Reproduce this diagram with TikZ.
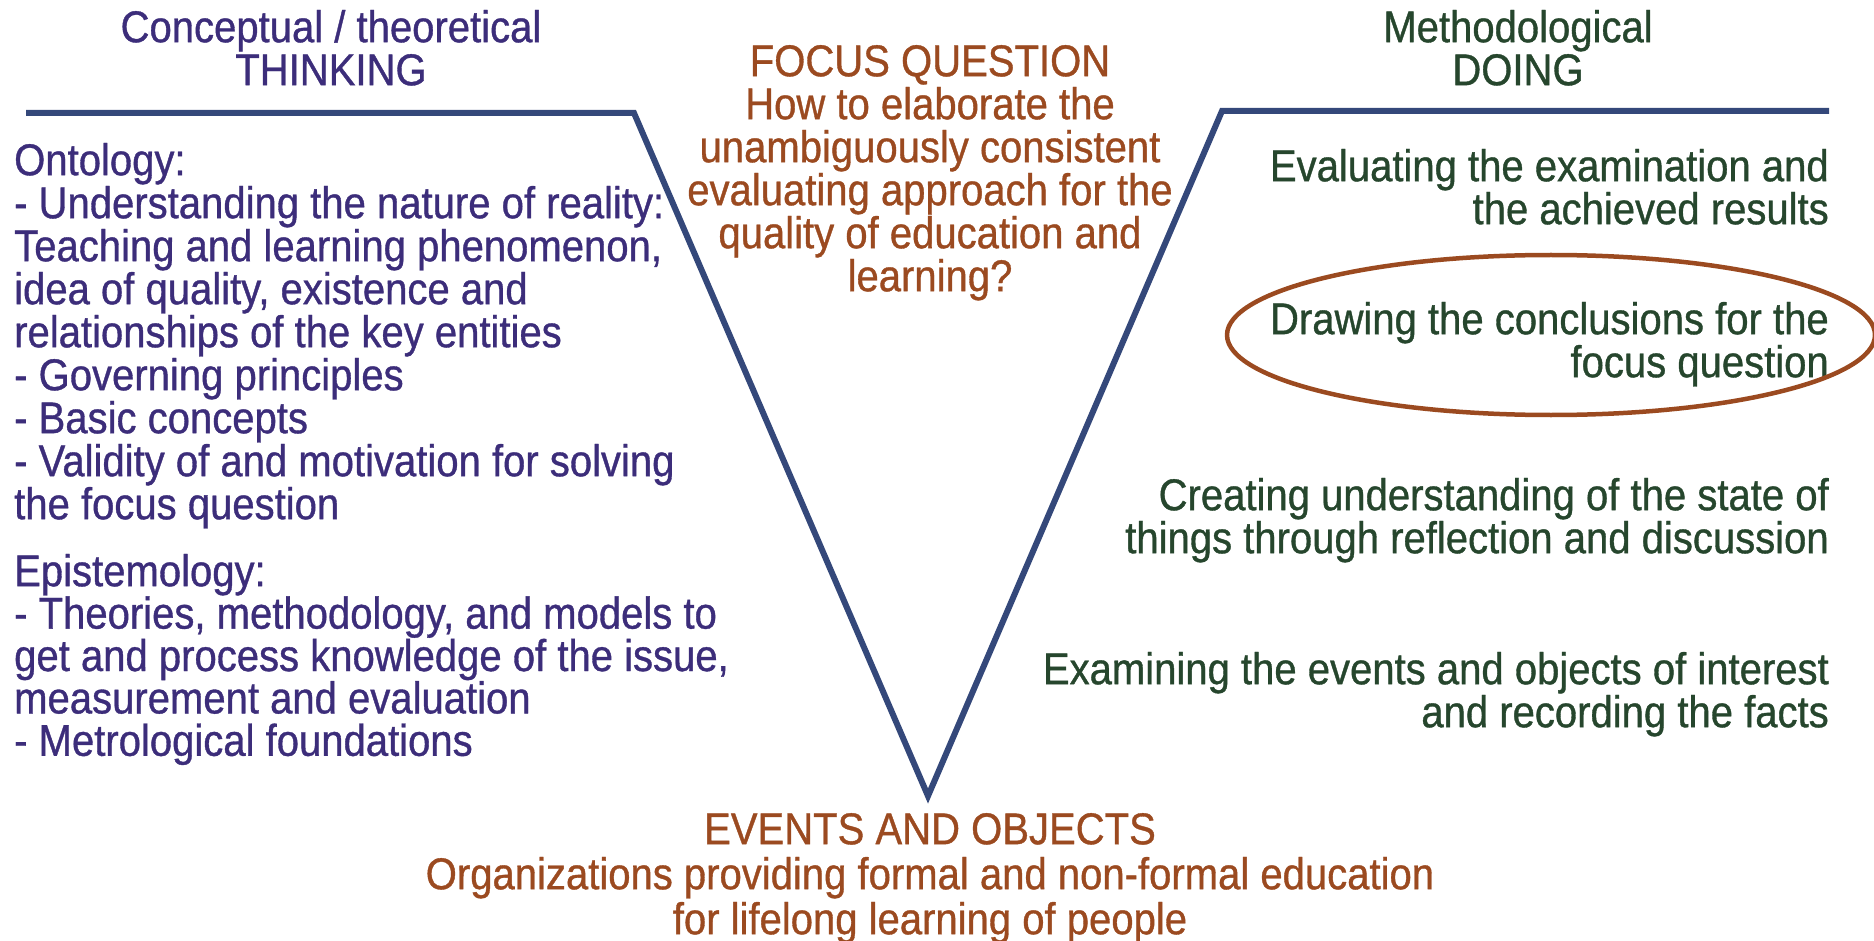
\documentclass[tikz,border=0pt]{standalone}
\usepackage{fontspec}
\setmainfont{Liberation Sans}[FakeStretch=0.9, FakeBold=0.8]
\definecolor{vline}{RGB}{52,72,122}
\definecolor{thinkcol}{RGB}{60,45,122}
\definecolor{focuscol}{RGB}{155,74,32}
\definecolor{docol}{RGB}{38,70,45}
% fixed-height strut: puts the first baseline 38pt below a node's top edge
\newcommand{\firstline}{\rule{0pt}{38pt}}
\tikzset{
  txt/.style={inner sep=0pt, font=\fontsize{44.5}{43}\selectfont},
  thinktxt/.style={txt, text=thinkcol, align=left, anchor=north west},
  dotxt/.style={txt, text=docol, align=right, anchor=north east},
  focustxt/.style={txt, text=focuscol, align=center, anchor=north},
  vee/.style={draw=vline, line width=6pt, line join=miter},
}
\begin{document}
\begin{tikzpicture}[x=1pt,y=-1pt]
\useasboundingbox (0,0) rectangle (1874,941);

% the V-shaped frame
\coordinate (ltop) at (26,113);
\coordinate (lcorner) at (634,113);
\coordinate (vertex) at (928,796);
\coordinate (rcorner) at (1222,111);
\coordinate (rtop) at (1829,111);
\draw[vee] (ltop) -- (lcorner) -- (vertex) -- (rcorner) -- (rtop);

% column headings
\node[txt, text=thinkcol, align=center, anchor=north] (thinkhead) at (331,4)
  {\firstline Conceptual / theoretical\\THINKING};
\node[txt, text=docol, align=center, anchor=north] (dohead) at (1518,4)
  {\firstline Methodological\\DOING};

% focus question
\node[focustxt] (focus) at (930,38)
  {\firstline FOCUS QUESTION\\How to elaborate the\\unambiguously consistent\\evaluating approach for the\\quality of education and\\learning?};

% conceptual side
\node[thinktxt] (ontology) at (14,137)
  {\firstline Ontology:\\- Understanding the nature of reality:\\Teaching and learning phenomenon,\\idea of quality, existence and\\relationships of the key entities\\- Governing principles\\- Basic concepts\\- Validity of and motivation for solving\\the focus question};
\node[thinktxt, font=\fontsize{44.5}{42.4}\selectfont] (epistemology) at (14,548)
  {\firstline Epistemology:\\- Theories, methodology, and models to\\get and process knowledge of the issue,\\measurement and evaluation\\- Metrological foundations};

% methodological side
\node[dotxt] (evaluating) at (1829,143)
  {\firstline Evaluating the examination and\\the achieved results};
\node[dotxt] (drawing) at (1829,296)
  {\firstline Drawing the conclusions for the\\focus question};
\node[dotxt] (creating) at (1829,472)
  {\firstline Creating understanding of the state of\\things through reflection and discussion};
\node[dotxt] (examining) at (1829,646)
  {\firstline Examining the events and objects of interest\\and recording the facts};

% highlight round the conclusions
\draw[draw=focuscol, line width=4.5pt] (1551,335) ellipse [x radius=324, y radius=80];

% events and objects
\node[focustxt, font=\fontsize{44.5}{45}\selectfont] (events) at (930,806)
  {\firstline EVENTS AND OBJECTS\\Organizations providing formal and non-formal education\\for lifelong learning of people};
\end{tikzpicture}
\end{document}
